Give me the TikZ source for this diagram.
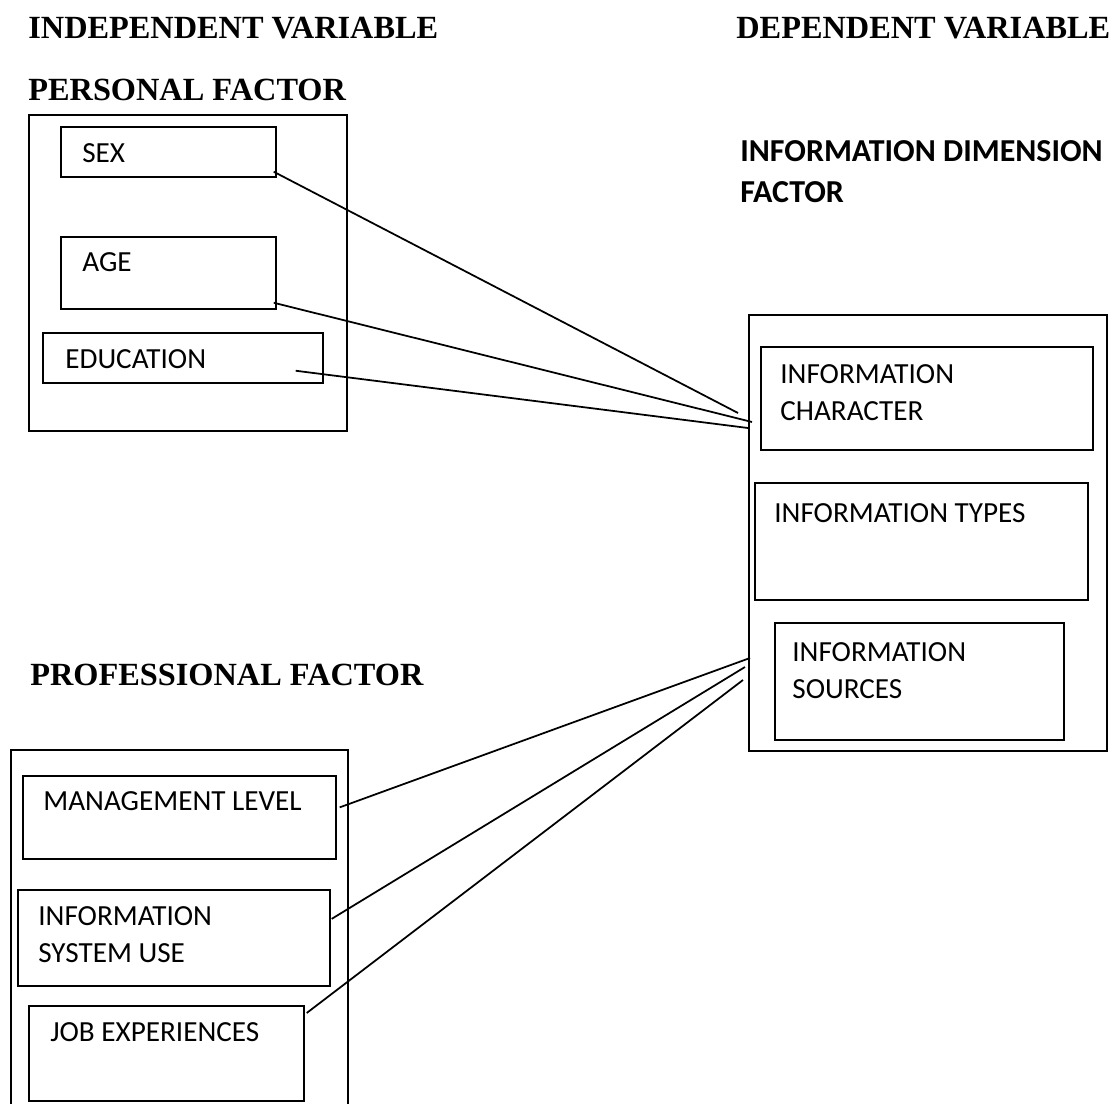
\documentclass[tikz,border=0pt]{standalone}
\usepackage{fontspec}
\setmainfont{Carlito}
\newfontfamily\headfont{Liberation Serif}
\tikzstyle{box} = [draw, line width=1pt, rectangle, inner sep=0pt, anchor=north west]
\tikzstyle{line} = [draw, line width=1pt]
\tikzstyle{head} = [anchor=base west, inner sep=0pt, font=\headfont\bfseries\fontsize{18.4}{22}\selectfont]
\tikzstyle{lbl} = [anchor=base west, inner sep=0pt, align=left, font=\fontsize{16.6}{20.5}\selectfont]

\begin{document}
\begin{tikzpicture}[x=0.02cm, y=-0.02cm]
      \clip (0,0) rectangle (1115,1104);

      % headings
      \node[head] (indep) at (28,39) {INDEPENDENT VARIABLE};
      \node[head] (dep) at (736,39) {DEPENDENT VARIABLE};
      \node[head] (perstitle) at (28,101) {PERSONAL FACTOR};
      \node[head] (proftitle) at (30,685) {PROFESSIONAL FACTOR};
      \node[lbl, font=\bfseries\fontsize{18.2}{23.8}\selectfont] (dimtitle) at (740,203) {INFORMATION DIMENSION\\FACTOR};

      % personal factor
      \node[box, minimum width=6.36cm, minimum height=6.32cm] (personal) at (28,114) {};
      \node[box, minimum width=4.3cm, minimum height=1.0cm] (sex) at (60,126) {};
      \node[box, minimum width=4.3cm, minimum height=1.44cm] (age) at (60,236) {};
      \node[box, minimum width=5.6cm, minimum height=1.0cm] (edu) at (42,332) {};
      \node[lbl] at (82,163) {SEX};
      \node[lbl] at (82,272) {AGE};
      \node[lbl] at (65,369) {EDUCATION};

      % professional factor
      \node[box, minimum width=6.74cm, minimum height=7.3cm] (professional) at (10,749) {};
      \node[box, minimum width=6.26cm, minimum height=1.66cm] (mgmt) at (22,775) {};
      \node[box, minimum width=6.24cm, minimum height=1.92cm] (isuse) at (17,889) {};
      \node[box, minimum width=5.5cm, minimum height=1.9cm] (jobexp) at (28,1005) {};
      \node[lbl] at (43,810) {MANAGEMENT LEVEL};
      \node[lbl] at (38,962) {INFORMATION\\SYSTEM USE};
      \node[lbl] at (50,1041) {JOB EXPERIENCES};

      % information dimension factor
      \node[box, minimum width=7.16cm, minimum height=8.72cm] (dim) at (748,314) {};
      \node[box, minimum width=6.64cm, minimum height=2.06cm] (ichar) at (760,346) {};
      \node[box, minimum width=6.66cm, minimum height=2.34cm] (itypes) at (754,482) {};
      \node[box, minimum width=5.78cm, minimum height=2.34cm] (isrc) at (774,622) {};
      \node[lbl] at (780,420) {INFORMATION\\CHARACTER};
      \node[lbl] at (774,522) {INFORMATION TYPES};
      \node[lbl] at (792,698) {INFORMATION\\SOURCES};

      % links
      \draw[line] ([shift={(-3,-6)}]sex.south east) -- ([shift={(-10,99)}]dim.north west);
      \draw[line] ([shift={(-3,-7)}]age.south east) -- ([shift={(4,108)}]dim.north west);
      \draw[line] ([shift={(-28,-13)}]edu.south east) -- ([shift={(0,114)}]dim.north west);
      \draw[line] ([shift={(3,-10)}]mgmt.east) -- ([shift={(2,344)}]dim.north west);
      \draw[line] ([shift={(1,-19)}]isuse.east) -- ([shift={(-3,353)}]dim.north west);
      \draw[line] ([shift={(2,8)}]jobexp.north east) -- ([shift={(-5,366)}]dim.north west);
\end{tikzpicture}
\end{document}
